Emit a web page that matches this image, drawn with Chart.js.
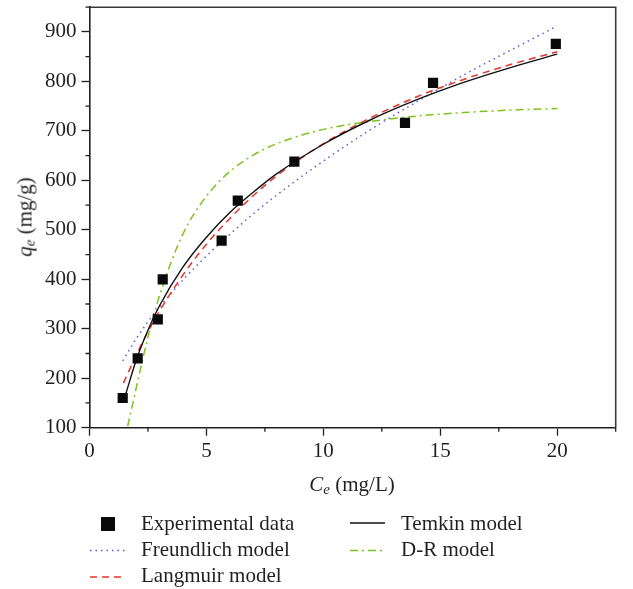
<!DOCTYPE html>
<html><head><meta charset="utf-8">
<script src="https://cdn.jsdelivr.net/npm/chart.js@4.4.1/dist/chart.umd.min.js"></script>
<style>
html,body{margin:0;padding:0;background:#fff;}
#wrap{position:relative;width:633px;height:589px;font-family:"Liberation Serif","Times New Roman",serif;color:#231f20;overflow:hidden;}
#c{position:absolute;left:0;top:0;}
.t{position:absolute;white-space:nowrap;font-size:21px;line-height:1;}
.t sub{font-size:15px;vertical-align:-3px;line-height:0;}
.leg{position:absolute;white-space:nowrap;font-size:21px;line-height:1;}
.sym{position:absolute;}
</style></head>
<body>
<div id="wrap">
<canvas id="c" width="633" height="589"></canvas>
<div class="t" id="yt" style="left:25px;top:217px;transform:translate(-50%,-50%) rotate(-90deg);"><i>q</i><sub><i>e</i></sub> (mg/g)</div>
<div class="t" id="xt" style="left:352px;top:484px;transform:translate(-50%,-50%);"><i>C</i><sub><i>e</i></sub> (mg/L)</div>

<svg class="sym" style="left:88px;top:510px" width="40" height="75">
  <rect x="13" y="7" width="14" height="14" fill="#0a0a0a"/>
  <line x1="2" y1="40.5" x2="37" y2="40.5" stroke="#5b5bd6" stroke-width="1.5" stroke-dasharray="1.5,4"/>
  <line x1="2" y1="67" x2="37" y2="67" stroke="#e8332a" stroke-width="1.5" stroke-dasharray="7,5"/>
</svg>
<svg class="sym" style="left:348px;top:510px" width="40" height="50">
  <line x1="2" y1="13" x2="37" y2="13" stroke="#111" stroke-width="1.5"/>
  <line x1="2" y1="40.5" x2="37" y2="40.5" stroke="#7dc21e" stroke-width="1.5" stroke-dasharray="8,4,2,4"/>
</svg>
<div class="leg" style="left:141px;top:513px;">Experimental data</div>
<div class="leg" style="left:141px;top:539px;">Freundlich model</div>
<div class="leg" style="left:141px;top:565px;">Langmuir model</div>
<div class="leg" style="left:401px;top:513px;">Temkin model</div>
<div class="leg" style="left:401px;top:539px;">D-R model</div>
</div>
<script>
// Experimental data
const expC = [1.42, 2.06, 2.92, 3.13, 5.65, 6.34, 8.76, 13.49, 14.69, 19.94];
const expQ = [160, 240, 319, 400, 478, 559, 638, 716, 797, 876];
// Freundlich model
const freC = [1.42, 2, 2.5, 3, 4, 5, 6, 7, 8, 10, 12, 14, 16, 18, 20];
const freQ = [235, 280, 314, 344, 399, 447, 491, 532, 570, 639, 702, 759, 813, 863, 912];
// Langmuir model
const lanC = [1.45, 2, 2.5, 3, 4, 5, 6, 7, 8, 10, 12, 14, 16, 18, 20];
const lanQ = [190, 247, 294, 336, 409, 471, 523, 569, 609, 674, 726, 769, 804, 834, 860];
// Temkin model
const temC = [1.55, 2, 2.5, 3, 4, 5, 6, 7, 8, 10, 12, 14, 16, 18, 20];
const temQ = [168, 237, 297, 347, 425, 485, 535, 576, 613, 673, 722, 763, 798, 828, 855];
// D-R model
const drC = [1.63, 1.8, 2, 2.5, 3, 4, 5, 6, 7, 8, 10, 12, 14, 16, 18, 20];
const drQ = [103, 138, 181, 283, 368, 492, 568, 618, 651, 674, 703, 719, 730, 737, 742, 745];
// Axis ticks
const xTicksMajor = [0, 5, 10, 15, 20];
const yTicksMajor = [100, 200, 300, 400, 500, 600, 700, 800, 900];

const pts = (xs, ys) => xs.map((x, i) => ({x: x, y: ys[i]}));
const FONT = '"Liberation Serif","Times New Roman",serif';
const INK = '#231f20';

const frame = {
  id: 'frame',
  afterDraw(chart) {
    const {ctx, chartArea: a, scales: {x, y}} = chart;
    ctx.save();
    ctx.strokeStyle = '#3a3a3a';
    ctx.lineWidth = 1.6;
    ctx.beginPath();
    ctx.moveTo(a.left, a.top); ctx.lineTo(a.right, a.top); ctx.lineTo(a.right, a.bottom);
    ctx.stroke();
    // minor ticks
    ctx.strokeStyle = INK;
    ctx.lineWidth = 1.3;
    ctx.beginPath();
    for (let v = 2.5; v <= x.max + 1e-9; v += 5) {
      const px = x.getPixelForValue(v);
      ctx.moveTo(px, a.bottom); ctx.lineTo(px, a.bottom + 4);
    }
    for (let v = 150; v <= y.max + 1e-9; v += 100) {
      const py = y.getPixelForValue(v);
      ctx.moveTo(a.left, py); ctx.lineTo(a.left - 4, py);
    }
    ctx.stroke();
    ctx.restore();
  }
};

new Chart(document.getElementById('c'), {
  type: 'scatter',
  data: {
    datasets: [
      {label: 'Experimental data', data: pts(expC, expQ), pointStyle: 'rect', pointRadius: 7.2,
       backgroundColor: '#0a0a0a', borderColor: '#0a0a0a', borderWidth: 0, showLine: false},
      {label: 'Temkin model', data: pts(temC, temQ), showLine: true, pointRadius: 0,
       borderColor: '#111', borderWidth: 1.4, cubicInterpolationMode: 'monotone'},
      {label: 'Langmuir model', data: pts(lanC, lanQ), showLine: true, pointRadius: 0,
       borderColor: '#e8332a', borderWidth: 1.5, borderDash: [7, 5], cubicInterpolationMode: 'monotone'},
      {label: 'Freundlich model', data: pts(freC, freQ), showLine: true, pointRadius: 0,
       borderColor: '#5b5bd6', borderWidth: 1.5, borderDash: [1.5, 4], cubicInterpolationMode: 'monotone'},
      {label: 'D-R model', data: pts(drC, drQ), showLine: true, pointRadius: 0,
       borderColor: '#7dc21e', borderWidth: 1.5, borderDash: [8, 4, 2, 4], cubicInterpolationMode: 'monotone'}
    ]
  },
  options: {
    responsive: false,
    animation: false,
    devicePixelRatio: 1,
    layout: {padding: {left: 0, top: 5, right: 17.3, bottom: 121.3}},
    plugins: {legend: {display: false}, tooltip: {enabled: false}},
    scales: {
      x: {
        type: 'linear', min: 0, max: 22.5,
        afterBuildTicks: s => { s.ticks = xTicksMajor.map(v => ({value: v})); },
        ticks: {includeBounds: false, font: {family: FONT, size: 21}, color: INK, padding: 3, maxRotation: 0, autoSkip: false},
        grid: {drawOnChartArea: false, drawTicks: true, tickLength: 8, tickColor: INK, tickWidth: 1.3},
        border: {color: INK, width: 1.6},
        afterFit: s => { s.height = 40; s.paddingLeft = 0; s.paddingRight = 0; }
      },
      y: {
        type: 'linear', min: 100, max: 950,
        afterBuildTicks: s => { s.ticks = yTicksMajor.map(v => ({value: v})); },
        ticks: {includeBounds: false, font: {family: FONT, size: 21}, color: INK, padding: 5, autoSkip: false},
        grid: {drawOnChartArea: false, drawTicks: true, tickLength: 8, tickColor: INK, tickWidth: 1.3},
        border: {color: INK, width: 1.6},
        afterFit: s => { s.width = 89.5; s.paddingTop = 0; s.paddingBottom = 0; }
      }
    }
  },
  plugins: [frame]
});
</script>
</body></html>
